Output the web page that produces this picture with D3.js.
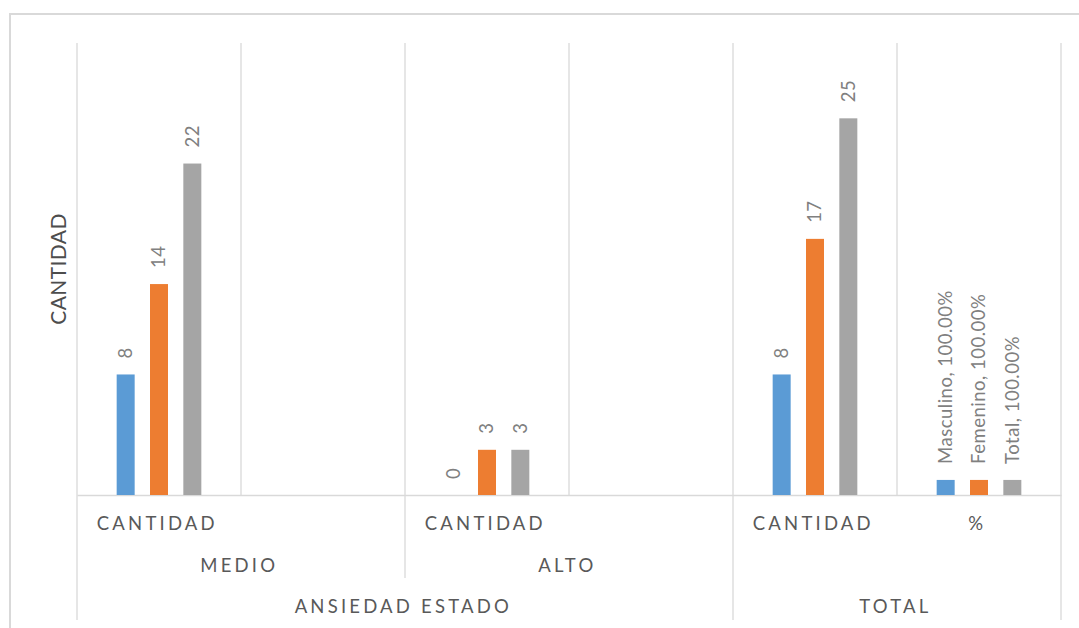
<!DOCTYPE html>
<html>
<head>
<meta charset="utf-8">
<script src="https://cdn.jsdelivr.net/npm/d3@7"></script>
<style>
  html, body { margin: 0; padding: 0; background: #fff; }
  svg { display: block; }
  text { font-family: Lato, "Open Sans", "Liberation Sans", sans-serif; }
</style>
</head>
<body>
<svg id="chart" width="1079" height="628"></svg>
<script>
// Categories: innermost level (shown under the bars), then the two outer levels
const categories = ["MEDIO-CANTIDAD", "MEDIO-%", "ALTO-CANTIDAD", "ALTO-%", "TOTAL-CANTIDAD", "TOTAL-%"];
const subLabels = ["CANTIDAD", "", "CANTIDAD", "", "CANTIDAD", "%"];
const levelTwo = [
  { label: "MEDIO", from: 0, to: 1 },
  { label: "ALTO", from: 2, to: 3 }
];
const levelThree = [
  { label: "ANSIEDAD ESTADO", from: 0, to: 3 },
  { label: "TOTAL", from: 4, to: 5 }
];

const seriesNames = ["Masculino", "Femenino", "Total"];
const masculino = [8, null, 0, null, 8, 1];
const femenino = [14, null, 3, null, 17, 1];
const total = [22, null, 3, null, 25, 1];
const seriesValues = [masculino, femenino, total];
const seriesColors = ["#5B9BD5", "#ED7D31", "#A5A5A5"];
const yDomain = [0, 30];
const yTitle = "CANTIDAD";

const svg = d3.select("#chart");
const plot = { left: 77, right: 1061, top: 43, bottom: 495 };
const lineColor = "#d9d9d9";

// Chart frame
svg.append("rect")
  .attr("x", 10).attr("y", 14)
  .attr("width", 1090).attr("height", 640)
  .attr("fill", "#fff")
  .attr("stroke", lineColor).attr("stroke-width", 2);

const x0 = d3.scaleBand().domain(categories).range([plot.left, plot.right]).padding(0);
const x1 = d3.scaleBand().domain(seriesNames)
  .range([-50, 50]).paddingInner(0.46).paddingOuter(0.23);
const y = d3.scaleLinear().domain(yDomain).range([plot.bottom, plot.top]);

// Vertical gridlines between categories
const boundaries = categories.map(c => x0(c)).concat([x0.range()[1]]);
svg.append("g").selectAll("line").data(boundaries).join("line")
  .attr("x1", d => d).attr("x2", d => d)
  .attr("y1", plot.top).attr("y2", plot.bottom)
  .attr("stroke", lineColor).attr("stroke-width", 1.3);

// Category axis line
const xAxis = d3.axisBottom(x0).tickSize(0).tickFormat(() => "");
svg.append("g").attr("transform", `translate(0,${plot.bottom})`).call(xAxis)
  .call(g => g.select(".domain").attr("stroke", lineColor).attr("stroke-width", 1.5));

// Bars
const rows = [];
seriesNames.forEach((s, si) => {
  categories.forEach((c, ci) => {
    const v = seriesValues[si][ci];
    if (v !== null) rows.push({ series: s, si, cat: c, ci, value: v });
  });
});
const centerOf = c => x0(c) + x0.bandwidth() / 2;

svg.append("g").selectAll("rect").data(rows).join("rect")
  .attr("x", d => centerOf(d.cat) + x1(d.series))
  .attr("y", d => y(d.value))
  .attr("width", x1.bandwidth())
  .attr("height", d => y(0) - y(d.value))
  .attr("fill", d => seriesColors[d.si]);

// Rotated data labels
const labelText = d => d.cat.endsWith("%")
  ? `${d.series}, ${d3.format(".2%")(d.value)}`
  : String(d.value);
svg.append("g").selectAll("text").data(rows).join("text")
  .attr("transform", d => {
    const cx = centerOf(d.cat) + x1(d.series) + x1.bandwidth() / 2;
    return `translate(${cx},${y(d.value) - 16}) rotate(-90)`;
  })
  .attr("dy", "0.35em")
  .attr("text-anchor", "start")
  .attr("font-size", 18.5)
  .attr("letter-spacing", "0.5px")
  .attr("fill", "#808080")
  .text(labelText);

// Multi-level category labels
const labelStyle = sel => sel
  .attr("text-anchor", "middle")
  .attr("font-size", 18.5)
  .attr("letter-spacing", "3.2px")
  .attr("fill", "#595959");

svg.append("g").selectAll("text").data(categories).join("text")
  .attr("x", c => centerOf(c) - 1.7)
  .attr("y", 530)
  .text((c, i) => subLabels[i])
  .call(labelStyle);

const spanCenter = g => (x0(categories[g.from]) + x0(categories[g.to]) + x0.bandwidth()) / 2 - 1.7;
svg.append("g").selectAll("text").data(levelTwo).join("text")
  .attr("x", spanCenter).attr("y", 572)
  .text(g => g.label).call(labelStyle);
svg.append("g").selectAll("text").data(levelThree).join("text")
  .attr("x", spanCenter).attr("y", 613)
  .text(g => g.label).call(labelStyle);

// Group separators below the axis
const separators = [
  { x: x0(categories[0]), y2: 620 },
  { x: x0(categories[2]), y2: 578 },
  { x: x0(categories[4]), y2: 620 },
  { x: plot.right, y2: 620 }
];
svg.append("g").selectAll("line").data(separators).join("line")
  .attr("x1", d => d.x).attr("x2", d => d.x)
  .attr("y1", plot.bottom).attr("y2", d => d.y2)
  .attr("stroke", lineColor).attr("stroke-width", 1.3);

// Value axis title
svg.append("text")
  .attr("transform", `translate(59,${(plot.top + plot.bottom) / 2}) rotate(-90)`)
  .attr("text-anchor", "middle")
  .attr("dy", "0.35em")
  .attr("font-size", 21)
  .attr("letter-spacing", "0.4px")
  .attr("fill", "#4d4d4d")
  .text(yTitle);
</script>
</body>
</html>
